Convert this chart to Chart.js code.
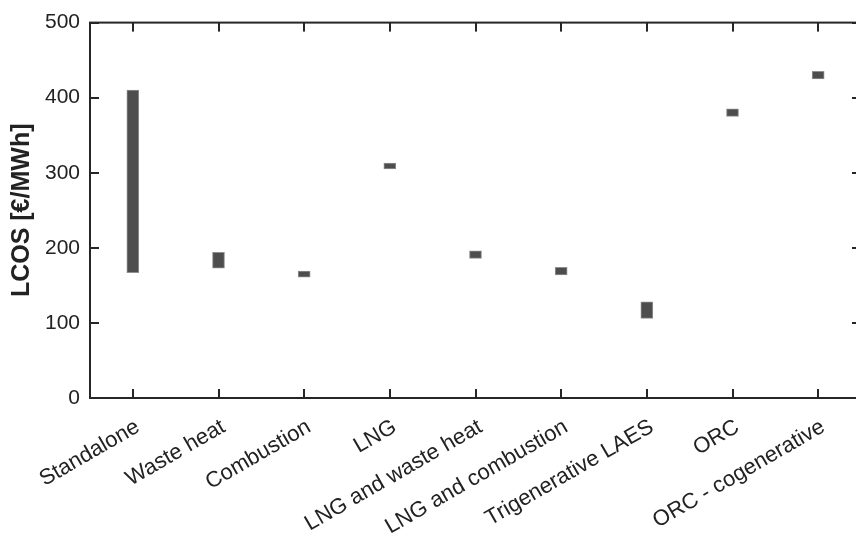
<!DOCTYPE html>
<html>
<head>
<meta charset="utf-8">
<script src="https://cdn.jsdelivr.net/npm/chart.js@4.4.1/dist/chart.umd.min.js"></script>
<style>
  html, body { margin: 0; padding: 0; background: #fff; overflow: hidden; }
  #wrap { width: 870px; height: 535px; }
</style>
</head>
<body>
<div id="wrap"><canvas id="lcosChart" width="870" height="535"></canvas></div>
<script>
const categories = [
  'Standalone',
  'Waste heat',
  'Combustion',
  'LNG',
  'LNG and waste heat',
  'LNG and combustion',
  'Trigenerative LAES',
  'ORC',
  'ORC - cogenerative',
];
const lcosLow = [167, 173, 161, 305, 186, 164, 106, 375, 425];
const lcosHigh = [410, 194, 169, 313, 196, 174, 128, 385, 435];
const yTicks = [0, 100, 200, 300, 400, 500];

const fontFamily = '"Liberation Sans", Arial, sans-serif';
const axisColor = '#262626';

// inward ticks and a full box round the plot, like the original figure
const boxFrame = {
  id: 'boxFrame',
  afterDraw(chart) {
    const { ctx, chartArea: a, scales } = chart;
    const len = 9;
    const w = 2;
    ctx.save();
    ctx.fillStyle = axisColor;
    for (let i = 0; i < categories.length; i++) {
      const px = Math.round(scales.x.getPixelForValue(i));
      ctx.fillRect(px - 1, a.bottom - len, w, len);
      ctx.fillRect(px - 1, a.top, w, len);
    }
    yTicks.forEach((v) => {
      const py = Math.round(scales.y.getPixelForValue(v));
      ctx.fillRect(a.left, py - 1, len, w);
      ctx.fillRect(a.right - len, py - 1, len, w);
    });
    ctx.strokeStyle = axisColor;
    ctx.lineWidth = 2;
    ctx.strokeRect(a.left, a.top, a.right - a.left, a.bottom - a.top);
    ctx.restore();
  },
};

new Chart(document.getElementById('lcosChart'), {
  type: 'bar',
  data: {
    labels: categories,
    datasets: [
      {
        label: 'LCOS',
        data: lcosLow.map((lo, i) => [lo, lcosHigh[i]]),
        backgroundColor: '#4d4d4d',
        borderColor: '#8f8f8f',
        borderWidth: 1,
        borderSkipped: false,
        barThickness: 12,
      },
    ],
  },
  options: {
    responsive: false,
    animation: false,
    layout: { padding: { top: 20, right: 9, left: 0, bottom: 0 } },
    plugins: {
      legend: { display: false },
      tooltip: { enabled: false },
    },
    scales: {
      x: {
        offset: true,
        grid: { display: false, drawTicks: false },
        border: { display: false },
        ticks: {
          minRotation: 30,
          maxRotation: 30,
          padding: 16,
          labelOffset: 5,
          color: '#222',
          font: { family: fontFamily, size: 22 },
        },
        afterFit(scale) {
          scale.height = 137;
        },
      },
      y: {
        min: 0,
        max: 500,
        grid: { display: false, drawTicks: false },
        border: { display: false },
        afterBuildTicks(scale) {
          scale.ticks = yTicks.map((v) => ({ value: v }));
        },
        ticks: {
          padding: 10,
          color: '#222',
          font: { family: fontFamily, size: 21 },
        },
        title: {
          display: true,
          text: 'LCOS [€/MWh]',
          color: '#222',
          font: { family: fontFamily, size: 25, weight: 'bold' },
          padding: { top: 7, bottom: 0 },
        },
        afterFit(scale) {
          scale.width = 90;
        },
      },
    },
  },
  plugins: [boxFrame],
});
</script>
</body>
</html>
